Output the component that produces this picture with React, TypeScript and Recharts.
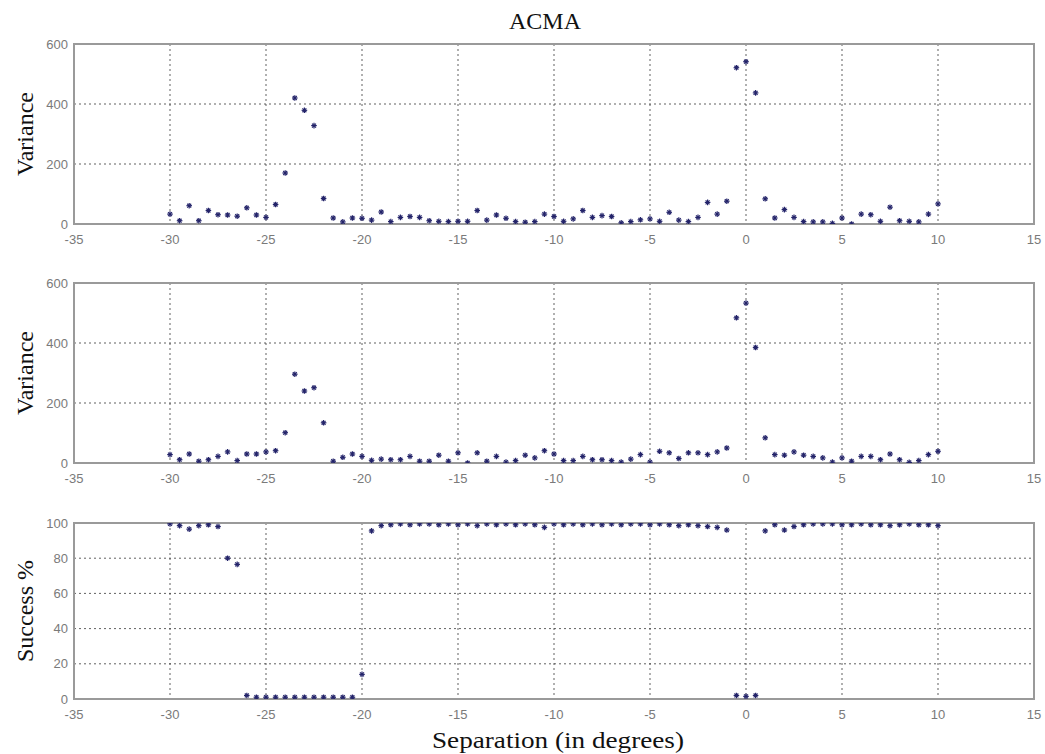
import React from "react";
import {
  ScatterChart,
  Scatter,
  XAxis,
  YAxis,
  CartesianGrid,
  ReferenceArea,
} from "recharts";

// Separation angles (degrees) at which each run was evaluated
const separation = [
  -30, -29.5, -29, -28.5, -28, -27.5, -27, -26.5, -26, -25.5, -25, -24.5, -24, -23.5,
  -23, -22.5, -22, -21.5, -21, -20.5, -20, -19.5, -19, -18.5, -18, -17.5, -17, -16.5,
  -16, -15.5, -15, -14.5, -14, -13.5, -13, -12.5, -12, -11.5, -11, -10.5, -10, -9.5,
  -9, -8.5, -8, -7.5, -7, -6.5, -6, -5.5, -5, -4.5, -4, -3.5, -3, -2.5, -2, -1.5, -1,
  -0.5, 0, 0.5, 1, 1.5, 2, 2.5, 3, 3.5, 4, 4.5, 5, 5.5, 6, 6.5, 7, 7.5, 8, 8.5, 9, 9.5, 10,
];

// Variance, first estimator
const varianceA = [
  33, 11, 61, 11, 45, 31, 30, 26, 54, 30, 22, 65, 170, 420, 379, 328, 85, 20, 7, 20, 19, 13, 40,
  8, 22, 25, 22, 11, 9, 8, 9, 9, 45, 13, 30, 19, 8, 6, 8, 33, 25, 9, 17, 45, 22, 28, 25, 4, 8, 14,
  17, 9, 39, 13, 8, 22, 72,
  33, 76, 521, 541, 437, 84, 20, 48, 22, 8, 7, 7, 2, 20, 0, 33, 31, 9, 56, 11, 9, 7, 33, 67,
];

// Variance, second estimator
const varianceB = [
  28, 11, 30, 6, 11, 22, 37, 8, 30, 30, 37, 41, 101, 296, 240, 251, 134, 6, 19, 30, 22, 9, 13,
  11, 11, 22, 6, 6, 26, 6, 34, 0, 34, 6, 22, 3, 8, 26, 17, 41, 30, 8, 8, 22, 11, 11, 8, 3, 13,
  28, 3, 39, 34, 15, 34, 34, 28,
  37, 50, 484, 533, 385, 84, 28, 26, 37, 26, 22, 17, 3, 17, 6, 22, 22, 11, 30, 11, 2, 8, 28, 39,
];

// Success rate (%)
const successRate = [
  99.5, 98.5, 96.5, 98.5, 99, 98, 80, 76.5, 2, 1, 1, 1, 1, 1, 1, 1, 1, 1, 1, 1, 14, 95.5, 98.5,
  99, 99.5, 99, 99.5, 99.5, 99, 99.5, 99, 99.5, 98.5, 99.5, 99, 99.5, 99, 99.5, 99, 97.5, 99.5,
  99, 99.5, 99, 99.5, 99, 99.5, 99, 99.5, 99.5, 99, 99.5, 99, 98.5, 99, 98.5, 98,
  97.5, 96, 2, 1.5, 2, 95.5, 99, 96, 98, 99, 99.5, 99.5, 99.5, 99, 99, 99.5, 99, 99, 98.5, 99,
  99.5, 99, 99, 98.5,
];

const xTicks = [-35, -30, -25, -20, -15, -10, -5, 0, 5, 10, 15];
const varianceTicks = [0, 200, 400, 600];
const successTicks = [0, 20, 40, 60, 80, 100];

const toPoints = (values: number[]) =>
  separation.map((x, i) => ({ x, y: values[i] }));

const MARK = "#24246a";
const GRID = "#3a3a3a";
const FRAME = "#9a9a9a";
const TICK_FONT = { fontFamily: "Liberation Sans, Arial, sans-serif", fontSize: 13, fill: "#7a7a7a" };
const SERIF = "Liberation Serif, Times New Roman, serif";

// MATLAB-style '*' marker
const Asterisk = (props: any) => {
  const { cx, cy } = props;
  if (cx == null || cy == null) return null;
  const r = 2.8;
  const d = r * 0.7;
  return (
    <g stroke={MARK} strokeWidth={1.2}>
      <line x1={cx - r} y1={cy} x2={cx + r} y2={cy} />
      <line x1={cx} y1={cy - r} x2={cx} y2={cy + r} />
      <line x1={cx - d} y1={cy - d} x2={cx + d} y2={cy + d} />
      <line x1={cx - d} y1={cy + d} x2={cx + d} y2={cy - d} />
    </g>
  );
};

type PanelProps = {
  top: number;
  height: number;
  values: number[];
  yMax: number;
  yTicks: number[];
};

const Panel = ({ top, height, values, yMax, yTicks }: PanelProps) => (
  <div style={{ position: "absolute", left: 0, top }}>
    <ScatterChart
      width={1045}
      height={height}
      margin={{ top: 10, right: 11, bottom: 10, left: 34 }}
    >
      <CartesianGrid
        stroke={GRID}
        strokeDasharray="2 3"
        strokeOpacity={0.8}
        horizontalValues={yTicks}
        verticalValues={xTicks}
      />
      <XAxis
        type="number"
        dataKey="x"
        domain={[-35, 15]}
        ticks={xTicks}
        allowDataOverflow
        axisLine={false}
        tickLine={false}
        tickSize={4}
        tickMargin={7}
        height={20}
        tick={TICK_FONT}
        interval={0}
      />
      <YAxis
        type="number"
        dataKey="y"
        domain={[0, yMax]}
        ticks={yTicks}
        allowDataOverflow
        axisLine={false}
        tickLine={false}
        tickSize={4}
        tickMargin={2}
        width={40}
        tick={TICK_FONT}
        interval={0}
      />
      <ReferenceArea
        x1={-35}
        x2={15}
        y1={0}
        y2={yMax}
        fill="none"
        stroke={FRAME}
        strokeWidth={2}
        ifOverflow="visible"
      />
      <Scatter
        data={toPoints(values)}
        shape={<Asterisk />}
        isAnimationActive={false}
      />
    </ScatterChart>
  </div>
);

export default function App() {
  return (
    <div
      style={{
        position: "absolute",
        left: 0,
        top: 0,
        width: 1045,
        height: 754,
        background: "#fff",
        overflow: "hidden",
      }}
    >
      <Panel top={34} height={220} values={varianceA} yMax={600} yTicks={varianceTicks} />
      <Panel top={273} height={220} values={varianceB} yMax={600} yTicks={varianceTicks} />
      <Panel top={513} height={216} values={successRate} yMax={100} yTicks={successTicks} />
      <svg
        width={1045}
        height={754}
        style={{ position: "absolute", left: 0, top: 0, pointerEvents: "none" }}
      >
        <g fontFamily={SERIF} fontSize={24} fill="#111">
          <text x={545} y={29} textAnchor="middle">ACMA</text>
          <text x={33} y={134} textAnchor="middle" transform="rotate(-90 33 134)">Variance</text>
          <text x={33} y={373} textAnchor="middle" transform="rotate(-90 33 373)">Variance</text>
          <text x={33} y={611} textAnchor="middle" transform="rotate(-90 33 611)">Success %</text>
          <text
            x={558}
            y={748}
            textAnchor="middle"
            textLength={252}
            lengthAdjust="spacingAndGlyphs"
          >
            Separation (in degrees)
          </text>
        </g>
      </svg>
    </div>
  );
}
